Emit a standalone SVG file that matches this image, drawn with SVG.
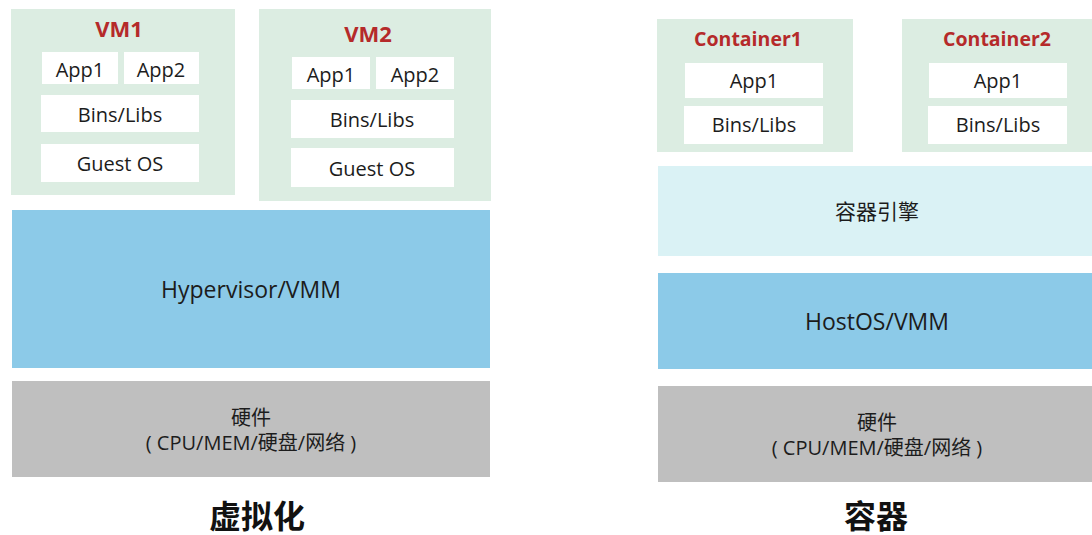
<svg xmlns="http://www.w3.org/2000/svg" width="1092" height="535" viewBox="0 0 1092 535">
  <style>
    .box { fill: #dcede2; }
    .cell { fill: #ffffff; }
    .blue { fill: #8ccae8; }
    .engine { fill: #daf2f5; }
    .hw { fill: #bfbfbf; }
    text { font-family: "Open Sans", "Noto Sans CJK SC", sans-serif; fill: #1c1c1c; text-anchor: middle; dominant-baseline: central; }
    .t { font-size: 20px; }
    .big { font-size: 23px; }
    .red { fill: #b52a2a; font-weight: bold; font-size: 19.5px; }
    .vm { font-size: 22px; }
    .title { font-family: "Noto Sans CJK SC", sans-serif; font-weight: bold; font-size: 32px; fill: #111111; }
  </style>
  <rect width="1092" height="535" fill="#ffffff"/>

  <!-- Virtualization stack -->
  <g id="vm1">
    <rect class="box" x="11" y="9" width="224" height="186"/>
    <text class="red vm" x="119" y="28">VM1</text>
    <rect class="cell" x="42" y="52" width="76" height="32"/>
    <text class="t" x="80" y="69">App1</text>
    <rect class="cell" x="124" y="52" width="75" height="32"/>
    <text class="t" x="161" y="69">App2</text>
    <rect class="cell" x="41" y="95" width="158" height="37"/>
    <text class="t" x="120" y="114">Bins/Libs</text>
    <rect class="cell" x="41" y="144" width="158" height="38"/>
    <text class="t" x="120" y="163">Guest OS</text>
  </g>
  <g id="vm2">
    <rect class="box" x="259" y="9" width="232" height="192"/>
    <text class="red vm" x="368" y="33">VM2</text>
    <rect class="cell" x="292" y="57" width="78" height="32"/>
    <text class="t" x="331" y="74">App1</text>
    <rect class="cell" x="376" y="57" width="78" height="32"/>
    <text class="t" x="415" y="74">App2</text>
    <rect class="cell" x="291" y="100" width="163" height="38"/>
    <text class="t" x="372" y="119">Bins/Libs</text>
    <rect class="cell" x="291" y="148" width="163" height="39"/>
    <text class="t" x="372" y="168">Guest OS</text>
  </g>
  <g id="hypervisor">
    <rect class="blue" x="12" y="210" width="478" height="158"/>
    <text class="big" x="251" y="289">Hypervisor/VMM</text>
  </g>
  <g id="hardware-vm">
    <rect class="hw" x="12" y="381" width="478" height="96"/>
    <text class="t" x="251" y="417">硬件</text>
    <text class="t" x="251" y="442">( CPU/MEM/硬盘/网络 )</text>
  </g>
  <g id="title-vm">
    <text class="title" x="257" y="514">虚拟化</text>
  </g>

  <!-- Container stack -->
  <g id="container1">
    <rect class="box" x="657" y="19" width="196" height="133"/>
    <text class="red" x="748" y="38">Container1</text>
    <rect class="cell" x="685" y="63" width="138" height="35"/>
    <text class="t" x="754" y="80">App1</text>
    <rect class="cell" x="684" y="106" width="139" height="38"/>
    <text class="t" x="754" y="124">Bins/Libs</text>
  </g>
  <g id="container2">
    <rect class="box" x="902" y="19" width="190" height="133"/>
    <text class="red" x="997" y="38">Container2</text>
    <rect class="cell" x="929" y="63" width="138" height="35"/>
    <text class="t" x="998" y="80">App1</text>
    <rect class="cell" x="928" y="106" width="139" height="38"/>
    <text class="t" x="998" y="124">Bins/Libs</text>
  </g>
  <g id="engine">
    <rect class="engine" x="658" y="166" width="434" height="90"/>
    <text class="t" x="877" y="211" style="font-size:21px">容器引擎</text>
  </g>
  <g id="hostos">
    <rect class="blue" x="658" y="273" width="434" height="96"/>
    <text class="big" x="877" y="321">HostOS/VMM</text>
  </g>
  <g id="hardware-container">
    <rect class="hw" x="658" y="386" width="434" height="96"/>
    <text class="t" x="877" y="422">硬件</text>
    <text class="t" x="877" y="447">( CPU/MEM/硬盘/网络 )</text>
  </g>
  <g id="title-container">
    <text class="title" x="876" y="514">容器</text>
  </g>

  <g id="connectors"/>
</svg>
